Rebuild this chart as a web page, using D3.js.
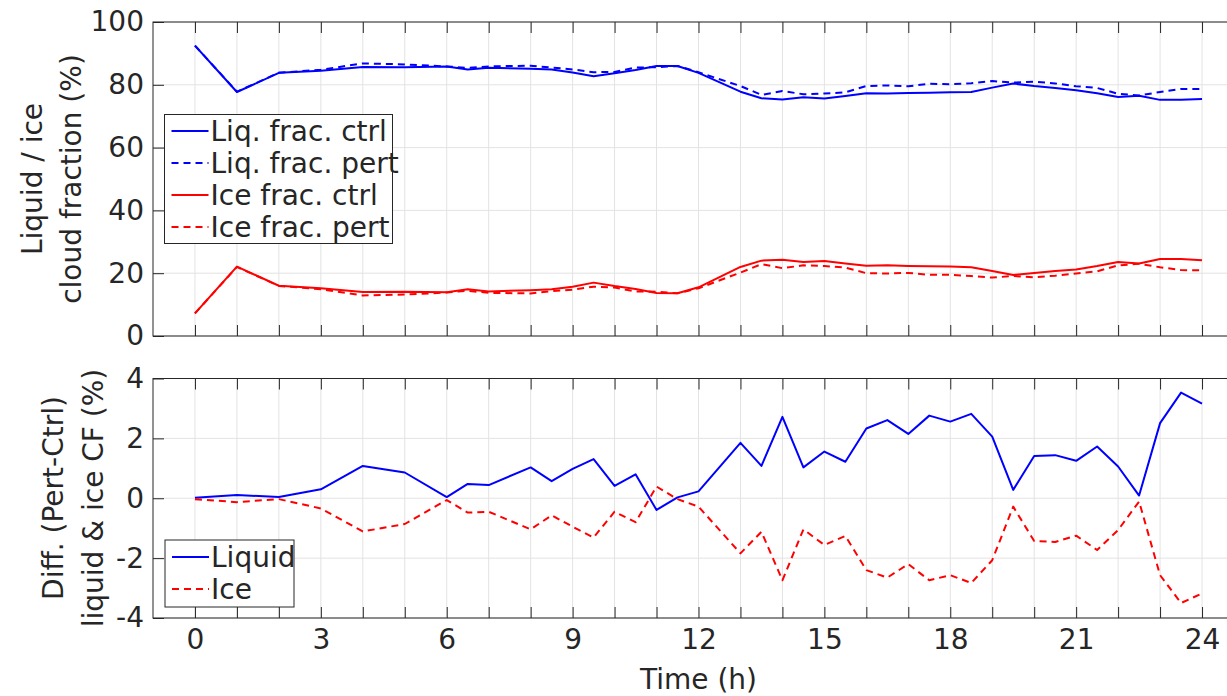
<!DOCTYPE html>
<html><head><meta charset="utf-8">
<script src="https://cdn.jsdelivr.net/npm/d3@7"></script>
<style>
html,body{margin:0;padding:0;background:#fff;}
svg{display:block;}
text{font-family:"DejaVu Sans",sans-serif;fill:#262626;}
</style></head>
<body>
<svg id="c" width="1227" height="696"></svg>
<script>
// ---- data ----
const times = [0,1,2,3,4,5,6,6.5,7,8,8.5,9,9.5,10,10.5,11,11.5,12,13,13.5,14,14.5,15,15.5,16,16.5,17,17.5,18,18.5,19,19.5,20,20.5,21,21.5,22,22.5,23,23.5,24];
const liqCtrl = [92.5,77.7,83.8,84.5,85.7,85.6,85.8,84.9,85.4,85.1,84.9,83.9,82.7,83.7,84.7,86.0,86.0,83.8,77.8,75.7,75.3,76.0,75.6,76.4,77.3,77.2,77.4,77.5,77.6,77.7,79.1,80.4,79.6,79.0,78.3,77.3,76.1,76.5,75.2,75.2,75.5];
const liqPert = [92.5,77.8,83.85,84.8,86.8,86.5,85.85,85.4,85.85,86.1,85.5,84.9,84.0,84.1,85.5,85.6,86.0,84.0,79.6,76.8,78.0,77.0,77.2,77.6,79.6,79.8,79.55,80.3,80.2,80.5,81.2,80.7,81.0,80.45,79.55,79.0,77.15,76.6,77.7,78.7,78.65];
const iceCtrl = [7.2,22.1,16.0,15.2,14.0,14.1,13.9,14.9,14.2,14.6,14.9,15.7,17.0,15.9,15.0,13.7,13.6,15.5,22.0,24.0,24.3,23.6,23.9,23.1,22.4,22.5,22.3,22.2,22.1,21.9,20.7,19.4,20.1,20.7,21.2,22.3,23.6,23.1,24.5,24.5,24.1];
const icePert = [7.2,22.0,15.95,14.9,12.9,13.2,13.85,14.4,13.75,13.55,14.3,14.75,15.7,15.45,14.2,14.1,13.6,15.2,20.2,22.9,21.6,22.5,22.3,21.8,20.0,19.9,20.1,19.5,19.5,19.1,18.6,19.1,18.7,19.2,19.9,20.6,22.5,23.0,21.9,21.0,20.9];
const diffLiq = [0.02,0.11,0.04,0.30,1.08,0.86,0.04,0.48,0.44,1.03,0.57,0.98,1.31,0.41,0.80,-0.39,0.03,0.23,1.85,1.08,2.72,1.03,1.56,1.22,2.33,2.61,2.15,2.76,2.56,2.82,2.06,0.28,1.41,1.44,1.25,1.73,1.06,0.09,2.51,3.53,3.16];
const diffIce = [-0.03,-0.13,-0.03,-0.34,-1.11,-0.86,-0.06,-0.48,-0.45,-1.04,-0.57,-0.95,-1.31,-0.45,-0.80,0.39,-0.03,-0.28,-1.84,-1.12,-2.74,-1.04,-1.56,-1.26,-2.40,-2.65,-2.20,-2.74,-2.57,-2.83,-2.07,-0.28,-1.43,-1.46,-1.25,-1.73,-1.06,-0.11,-2.57,-3.50,-3.18];
const xTicks = d3.range(0,25,1);
const xLabelTicks = [0,3,6,9,12,15,18,21,24];
const yTicksTop = [0,20,40,60,80,100];
const yTicksBot = [-4,-2,0,2,4];
const legendTop = ["Liq. frac. ctrl","Liq. frac. pert","Ice frac. ctrl","Ice frac. pert"];
const legendBot = ["Liquid","Ice"];

// ---- layout ----
const FS = 28;
const svg = d3.select("#c");
const L = 153, R = 1244;
const x = d3.scaleLinear().domain([-1,25]).range([L,R]);
const yT = d3.scaleLinear().domain([0,100]).range([336,22]);
const yB = d3.scaleLinear().domain([-4,4]).range([618,378.5]);
const BLUE = "#0000ff", RED = "#ff0000";
const DASH = "7,5";

function panel(y, yTicks, showX){
  const g = svg.append("g");
  const [y0,y1] = y.range(); // bottom, top
  g.append("g").selectAll("line").data(xTicks).join("line")
    .attr("x1",d=>x(d)).attr("x2",d=>x(d)).attr("y1",y0).attr("y2",y1)
    .attr("stroke","#e3e3e3").attr("stroke-width",1);
  g.append("g").selectAll("line").data(yTicks).join("line")
    .attr("x1",L).attr("x2",R).attr("y1",d=>y(d)).attr("y2",d=>y(d))
    .attr("stroke","#e3e3e3").attr("stroke-width",1);
  const ax = g.append("g");
  const left = ax.append("g").attr("transform",`translate(${L},0)`)
    .call(d3.axisLeft(y).tickValues(yTicks).tickSize(-11).tickPadding(9).tickFormat(d=>String(d)));
  const bottom = ax.append("g").attr("transform",`translate(0,${y0})`)
    .call(d3.axisBottom(x).tickValues(xTicks).tickSize(-11).tickPadding(11)
      .tickFormat(d=> (showX && xLabelTicks.includes(d)) ? String(d) : ""));
  const top = ax.append("g").attr("transform",`translate(0,${y1})`)
    .call(d3.axisTop(x).tickValues(xTicks).tickSize(-11).tickFormat(""));
  [left,bottom,top].forEach(a=>{
    a.select(".domain").remove();
    a.selectAll(".tick line").attr("stroke","#262626").attr("stroke-width",1);
    a.selectAll(".tick text").attr("font-size",FS).attr("fill","#262626")
      .style("font-family","DejaVu Sans, sans-serif");
  });
  ax.append("rect").attr("x",L).attr("y",y1).attr("width",R-L).attr("height",y0-y1)
    .attr("fill","none").attr("stroke","#262626").attr("stroke-width",1);
  return g;
}

panel(yT, yTicksTop, false);
panel(yB, yTicksBot, true);

function drawLine(y, vals, color, dashed){
  const line = d3.line().x((d,i)=>x(times[i])).y(d=>y(d));
  svg.append("path").datum(vals).attr("d",line)
    .attr("fill","none").attr("stroke",color).attr("stroke-width",2)
    .attr("stroke-linejoin","round")
    .attr("stroke-dasharray",dashed?DASH:null);
}
drawLine(yT, liqCtrl, BLUE, false);
drawLine(yT, liqPert, BLUE, true);
drawLine(yT, iceCtrl, RED, false);
drawLine(yT, icePert, RED, true);
drawLine(yB, diffLiq, BLUE, false);
drawLine(yB, diffIce, RED, true);

// ---- legends ----
function legend(bx,by,bw,bh,labels,styles,rowY0,rowDy){
  const g = svg.append("g");
  g.append("rect").attr("x",bx).attr("y",by).attr("width",bw).attr("height",bh)
    .attr("fill","#fff").attr("stroke","#262626").attr("stroke-width",1);
  labels.forEach((lab,i)=>{
    const yy = rowY0 + i*rowDy;
    g.append("line").attr("x1",bx+7).attr("x2",bx+44).attr("y1",yy).attr("y2",yy)
      .attr("stroke",styles[i][0]).attr("stroke-width",2)
      .attr("stroke-dasharray",styles[i][1]?"7,5":null);
    g.append("text").attr("x",bx+46).attr("y",yy).attr("dy","0.36em")
      .attr("font-size",FS).text(lab);
  });
}
legend(164.5,114.5,228,129,legendTop,[[BLUE,false],[BLUE,true],[RED,false],[RED,true]],131,32);
legend(165,540,129,67,legendBot,[[BLUE,false],[RED,true]],557,32);

// ---- axis titles ----
function vlabel(cx,cy,txt){
  svg.append("text").attr("transform",`translate(${cx},${cy}) rotate(-90)`)
    .attr("text-anchor","middle").attr("dy","0.35em").attr("font-size",FS).text(txt);
}
vlabel(32,179,"Liquid / ice");
vlabel(71,179,"cloud fraction (%)");
vlabel(53,498,"Diff. (Pert-Ctrl)");
vlabel(93,498,"liquid & ice CF (%)");
svg.append("text").attr("x",(L+R)/2).attr("y",679).attr("dy","0.35em")
  .attr("text-anchor","middle").attr("font-size",FS).text("Time (h)");
</script>
</body></html>
